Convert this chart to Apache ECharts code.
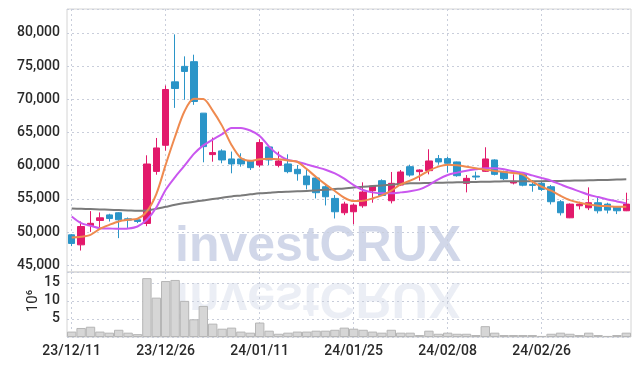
<!DOCTYPE html>
<html lang="en">
<head>
    <meta charset="UTF-8">
    <script src="https://cdn.jsdelivr.net/npm/echarts@6/dist/echarts.min.js"></script>
    <style>
        html, body { margin: 0; padding: 0; background: #fff; }
        #chart { width: 639px; height: 366px; }
    </style>
</head>
<body>
<div id="chart"></div>
<script>
    // trading days
    var days = [
        '23/12/11','23/12/12','23/12/13','23/12/14','23/12/15','23/12/18','23/12/19','23/12/20','23/12/21','23/12/22',
        '23/12/26','23/12/27','23/12/28','24/01/02','24/01/03','24/01/04','24/01/05','24/01/08','24/01/09','24/01/10',
        '24/01/11','24/01/12','24/01/15','24/01/16','24/01/17','24/01/18','24/01/19','24/01/22','24/01/23','24/01/24',
        '24/01/25','24/01/26','24/01/29','24/01/30','24/01/31','24/02/01','24/02/02','24/02/05','24/02/06','24/02/07',
        '24/02/08','24/02/13','24/02/14','24/02/15','24/02/16','24/02/19','24/02/20','24/02/21','24/02/22','24/02/23',
        '24/02/26','24/02/27','24/02/28','24/02/29','24/03/04','24/03/05','24/03/06','24/03/07','24/03/08','24/03/11'
    ];
    var opens  = [49600,48090,50970,51760,52600,52920,52010,51860,51310,59150,63080,72630,74960,75670,67920,61680,62230,61020,61020,60770,
                  60110,62830,60060,60270,59460,58450,58150,56840,55080,52920,53070,53970,56240,57750,54730,57090,59860,59110,59260,61070,
                  61070,60570,57350,58450,59160,60870,59110,57400,58730,57190,57350,56840,54580,52160,53970,53670,54430,54220,53820,53220];
    var closes = [48300,50850,51330,52160,52050,51860,51810,51610,60260,62680,71480,71630,74200,69670,62880,61980,60870,60270,60270,59710,
                  63490,60870,60720,59110,58800,57140,55940,55330,53070,54230,54070,56040,56940,55530,57350,59060,58600,59360,60720,60570,
                  60370,58500,58100,58300,61020,58700,58050,57650,57070,57040,56440,54580,52920,54220,54220,54430,53220,53320,53220,54220];
    var lows   = [47900,47230,50040,50750,51600,49100,50600,51360,50900,58650,62270,68710,69930,69170,60520,60610,60370,58860,59860,59360,
                  59760,60110,59760,58860,57750,56440,55080,54020,52060,52560,51200,53670,54430,55480,54330,56940,58350,57750,58700,60160,
                  58960,58350,55990,57850,59060,58550,57850,57190,56900,56090,56190,54170,52510,52110,53420,53320,52820,52820,52720,53170];
    var highs  = [49700,51610,53170,52970,52770,53000,52210,52110,61570,64180,72080,79780,76470,76720,67920,64240,62480,62130,61880,60870,
                  63990,62980,62130,61720,60110,59610,58350,57090,55580,54580,54330,57500,57090,57950,59060,59360,60160,59460,62480,61620,
                  61370,60620,58600,59110,62780,60970,59260,58700,58800,57850,57600,57090,54830,54320,54580,56740,55330,54430,53920,55940];
    // volume, millions of shares
    var volumes = [1.5,2.5,2.85,1.5,1.2,2.0,1.2,0.8,16.3,10.9,15.5,15.8,10.0,4.9,8.6,3.7,2.3,2.6,1.5,1.2,
                   4.0,1.75,0.9,1.2,1.5,1.5,1.75,1.75,2.0,2.6,2.3,2.0,1.5,1.2,2.0,1.2,1.2,0.55,1.75,0.9,
                   1.2,0.9,0.9,0.55,3.0,1.2,0.55,0.55,0.55,0.55,0.3,0.9,1.2,0.9,0.55,1.2,0.55,0.3,0.55,1.2];
    // moving averages
    var ma5  = [49195,49300,49600,50500,51100,51610,51860,52010,53120,55730,60160,64400,68200,70100,70050,68300,66000,63130,61150,60740,
                60990,61040,60970,60800,60600,59500,58300,57190,56190,55180,54680,54730,55080,55530,56240,57190,57750,58450,59260,59860,
                60160,60060,59860,59610,59410,59210,59060,58900,58650,57600,56840,56240,55480,54830,54430,54170,53970,53920,53820,53820];
    var ma10 = [52360,51360,50960,50600,50550,50500,50550,50850,51860,53720,56390,58300,60000,61780,63060,63940,64750,65700,65700,65300,
                64490,62880,61630,60870,60600,60200,59800,59400,58850,58050,57090,56340,55990,55840,55840,55990,56160,56440,57090,57950,
                58600,58960,59260,59460,59610,59610,59460,59160,58930,58550,58150,57750,57190,56640,56140,55630,55280,54930,54630,54330];
    var maLong = [53570,53520,53470,53420,53370,53320,53270,53220,53270,53520,53820,54120,54380,54580,54780,54980,55180,55380,55530,55690,
                  55840,55940,56040,56100,56150,56200,56290,56390,56490,56590,56740,56840,56940,57040,57140,57250,57350,57380,57410,57440,
                  57470,57500,57530,57560,57590,57620,57650,57680,57650,57660,57680,57700,57720,57750,57780,57810,57840,57870,57910,57950];

    var upColor = '#e2196b';
    var downColor = '#2b95c8';
    var gridColor = '#c9cedb';
    var labelFont = 'Roboto, sans-serif';

    var candles = [];
    for (var i = 0; i < days.length; i++) {
        candles.push([opens[i], closes[i], lows[i], highs[i]]);
    }

    var chart = echarts.init(document.getElementById('chart'));

    var option = {
        animation: false,
        backgroundColor: '#fff',
        grid: [
            {left: 67, right: 8, top: 9, height: 263, show: true, borderColor: '#d4d4d4', borderWidth: 1},
            {left: 67, right: 8, top: 272, height: 65, show: true, borderColor: '#d4d4d4', borderWidth: 1}
        ],
        graphic: [
            {
                type: 'text', x: 175, y: 272, z: 0, silent: true,
                style: {text: 'investCRUX', font: 'bold 50px "Liberation Sans", Arial, sans-serif',
                        fill: 'rgba(180,190,220,0.62)', verticalAlign: 'bottom'}
            },
            {
                type: 'text', x: 175, y: 272, scaleY: -1, z: 0, silent: true,
                style: {text: 'investCRUX', font: 'bold 50px "Liberation Sans", Arial, sans-serif',
                        fill: 'rgba(200,207,228,0.36)', verticalAlign: 'bottom'}
            },
            {
                // volume unit, rotated
                type: 'text', x: 33, y: 301, rotation: Math.PI / 2, silent: true,
                style: {text: '10\u2076', font: '15px Roboto, sans-serif', fill: '#2a2a2a',
                        align: 'center', verticalAlign: 'middle'}
            }
        ],
        xAxis: [
            {
                type: 'category', gridIndex: 0, data: days,
                axisLine: {show: false}, axisTick: {show: false}, axisLabel: {show: false},
                splitLine: {show: true, interval: 9, alignWithLabel: true,
                            lineStyle: {color: gridColor, type: [2, 3]}}
            },
            {
                type: 'category', gridIndex: 1, data: days,
                axisLine: {show: false}, axisTick: {show: false},
                axisLabel: {interval: 9, fontFamily: labelFont, fontSize: 14, fontWeight: 500, color: '#2a2a2a', margin: 7},
                splitLine: {show: true, interval: 9, alignWithLabel: true,
                            lineStyle: {color: gridColor, type: [2, 3]}}
            }
        ],
        yAxis: [
            {
                type: 'value', gridIndex: 0, min: 44000, max: 83600, splitNumber: 8,
                axisLine: {show: false}, axisTick: {show: false},
                axisLabel: {
                    fontFamily: labelFont, fontSize: 14, fontWeight: 500, color: '#2a2a2a', margin: 7,
                    formatter: function (v) {
                        return v % 5000 === 0 ? v.toLocaleString('en-US') : '';
                    }
                },
                splitLine: {lineStyle: {color: gridColor, type: [2, 3]}}
            },
            {
                type: 'value', gridIndex: 1, min: 0, max: 18, interval: 5,
                axisLine: {show: false}, axisTick: {show: false},
                axisLabel: {
                    fontFamily: labelFont, fontSize: 14, fontWeight: 500, color: '#2a2a2a', margin: 7,
                    formatter: function (v) { return (v > 0 && v % 5 === 0) ? String(v) : ''; }
                },
                splitLine: {lineStyle: {color: gridColor, type: [2, 3]}}
            }
        ],
        series: [
            {
                type: 'candlestick', xAxisIndex: 0, yAxisIndex: 0, data: candles, barWidth: 7, z: 3,
                itemStyle: {color: upColor, color0: downColor, borderColor: upColor, borderColor0: downColor, borderWidth: 1}
            },
            {
                type: 'line', xAxisIndex: 0, yAxisIndex: 0, data: maLong, smooth: 0.3, showSymbol: false, z: 4,
                lineStyle: {color: '#7a7a7a', width: 2}
            },
            {
                type: 'line', xAxisIndex: 0, yAxisIndex: 0, data: ma10, smooth: 0.3, showSymbol: false, z: 5,
                lineStyle: {color: '#c957ef', width: 2}
            },
            {
                type: 'line', xAxisIndex: 0, yAxisIndex: 0, data: ma5, smooth: 0.3, showSymbol: false, z: 6,
                lineStyle: {color: '#ef8a4f', width: 2}
            },
            {
                type: 'bar', xAxisIndex: 1, yAxisIndex: 1, data: volumes, barCategoryGap: '0%', z: 3,
                itemStyle: {color: '#d6d6d6', borderColor: '#b6b6b6', borderWidth: 1}
            }
        ]
    };
    chart.setOption(option);
</script>
</body>
</html>
